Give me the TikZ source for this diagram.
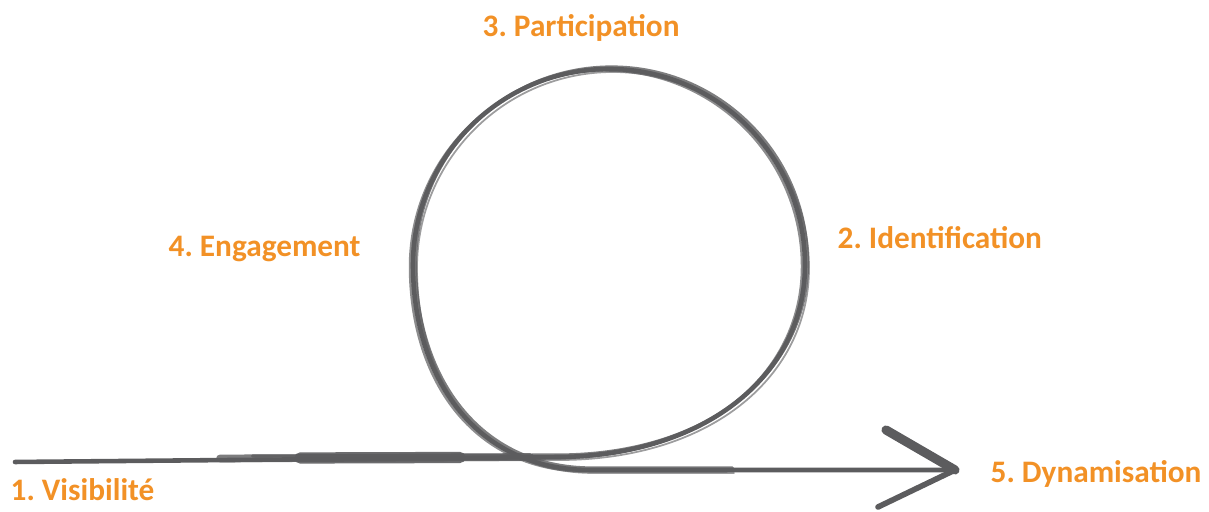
\documentclass[tikz,border=0pt]{standalone}
\usepackage{fontspec}
\setmainfont{Carlito}
\definecolor{loopgray}{RGB}{92,92,94}
\definecolor{stageorange}{RGB}{242,145,38}
\tikzset{
  stage/.style={anchor=base west, inner sep=0pt, text=stageorange,
    font=\fontsize{8.9}{10}\selectfont\bfseries\frenchspacing},
  brush/.style={draw=loopgray, line cap=round, line join=round},
}
\begin{document}
\begin{tikzpicture}
\useasboundingbox (0,0) rectangle (12.09,5.12);

% Schleife
\coordinate (start) at (0.15,0.50);
\coordinate (tip) at (9.55,0.42);
\coordinate (barbtop) at (8.86,0.82);
\coordinate (barbbottom) at (8.78,0.05);
\draw[brush, line width=1.3pt] (start) -- (5.6,0.55)
  .. controls (7.1,0.57) and (8.05,1.4) .. (8.05,2.47)
  arc[start angle=0, end angle=180, radius=1.96]
  .. controls (4.13,1.35) and (4.75,0.42) .. (5.9,0.42) -- (tip);
\foreach \dx/\dy/\w/\op in {0.025/0.02/0.9pt/0.8, -0.03/-0.015/0.7pt/0.7, 0.04/-0.03/0.5pt/0.6}
  \draw[brush, line width=\w, opacity=\op, shift={(\dx,\dy)}] (2.5,0.54) -- (5.6,0.55)
    .. controls (7.1,0.57) and (8.05,1.4) .. (8.05,2.47)
    arc[start angle=0, end angle=180, radius=1.96]
    .. controls (4.13,1.35) and (4.75,0.42) .. (5.9,0.42) -- (7.3,0.42);
% dickere Pinselstriche auf der Geraden
\draw[brush, line width=2.2pt, opacity=0.8] (2.2,0.535) -- (5.3,0.55);
\draw[brush, line width=3.2pt, opacity=0.9] (3.0,0.54) -- (4.6,0.545);

% Pfeilspitze
\draw[brush, line width=2.6pt] (barbtop) -- (tip);
\draw[brush, line width=1.6pt] (barbbottom) -- (tip);

% Etappen
\node[stage] (visibilite) at (0.10,0.11) {1. Visibilité};
\node[stage] (identification) at (8.37,2.63) {2. Identification};
\node[stage] (participation) at (4.82,4.75) {3. Participation};
\node[stage] (engagement) at (1.68,2.55) {4. Engagement};
\node[stage] (dynamisation) at (9.90,0.29) {5. Dynamisation};
\end{tikzpicture}
\end{document}
